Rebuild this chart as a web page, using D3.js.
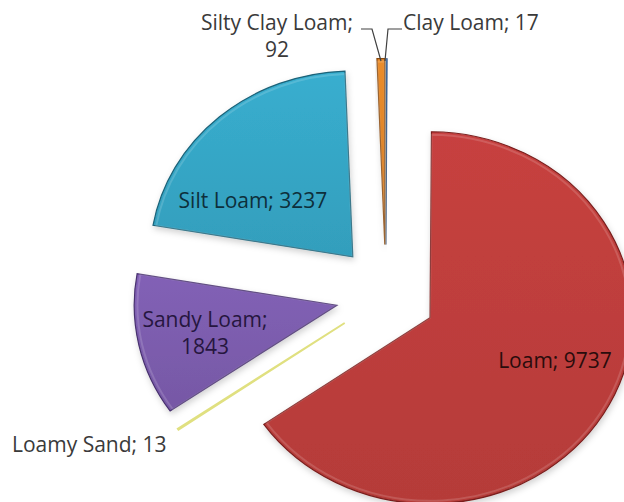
<!DOCTYPE html>
<html><head><meta charset="utf-8">
<script src="https://cdn.jsdelivr.net/npm/d3@7"></script>
<style>
html,body{margin:0;padding:0;background:#fff;}
svg{display:block;}
text{font-family:"Open Sans",sans-serif;}
</style></head>
<body>
<svg id="chart" width="624" height="502"></svg>
<script>
// ---- data ----
const categories = ["Clay Loam", "Loam", "Loamy Sand", "Sandy Loam", "Silt Loam", "Silty Clay Loam"];
const values = [17, 9737, 13, 1843, 3237, 92];
const colors = ["#4F81BD", "#BF3E3C", "#E6E690", "#7D5DAE", "#36A7C6", "#E0862A"];
const darkColors = ["#2c4d7a", "#7a1f1d", "#e0e080", "#47306e", "#1b6278", "#8a4a10"];
const labelColors = ["#3a3a3a", "#2a0c0c", "#3a3a3a", "#26163f", "#0d2f3b", "#3a3a3a"];

// ---- layout ----
const W = 624, H = 502;
const cx = 385.75, cy = 294.5;
const R = 186, sx = 1.09, explode = 50;

const svg = d3.select("#chart");
const defs = svg.append("defs");

colors.forEach((c, i) => {
  const g = defs.append("linearGradient").attr("id", "g" + i)
    .attr("x1", 0).attr("y1", 0).attr("x2", 0).attr("y2", 1);
  g.append("stop").attr("offset", "0%").attr("stop-color", d3.color(c).brighter(0.12));
  g.append("stop").attr("offset", "100%").attr("stop-color", d3.color(c).darker(0.15));
});
const f = defs.append("filter").attr("id", "shadow").attr("x", "-20%").attr("y", "-20%").attr("width", "140%").attr("height", "140%");
f.append("feDropShadow").attr("dx", 1).attr("dy", 3).attr("stdDeviation", 3).attr("flood-color", "#000").attr("flood-opacity", 0.18);

const pie = d3.pie().sort(null).value(d => d).startAngle(0).endAngle(2 * Math.PI);
const arcs = pie(values);
const arc = d3.arc().innerRadius(0).outerRadius(R);
const arcInner = d3.arc().innerRadius(0).outerRadius(R - 3);

const slices = svg.append("g").selectAll("g").data(arcs).join("g")
  .attr("transform", d => {
    const a = (d.startAngle + d.endAngle) / 2;
    return `translate(${cx + explode * Math.sin(a)},${cy - explode * Math.cos(a)}) scale(${sx},1)`;
  });

slices.append("path")
  .attr("d", arc)
  .attr("fill", (d, i) => `url(#g${i})`)
  .attr("stroke", (d, i) => darkColors[i])
  .attr("stroke-width", (d, i) => i === 2 ? 2 : (values[i] < 50 ? 0.6 : 1.2))
  .attr("vector-effect", "non-scaling-stroke")
  .attr("filter", (d, i) => values[i] < 50 ? null : "url(#shadow)");

// soft bevel highlight along the inner edge
slices.filter((d, i) => values[i] > 50).append("path")
  .attr("d", arcInner)
  .attr("fill", "none")
  .attr("stroke", "#fff")
  .attr("stroke-opacity", 0.15)
  .attr("stroke-width", 2)
  .attr("vector-effect", "non-scaling-stroke");

// ---- labels ----
const fs = 21;
const labels = svg.append("g").attr("font-size", fs);

function lab(lines, x, y, anchor, color) {
  const t = labels.append("text").attr("text-anchor", anchor).attr("fill", color);
  lines.forEach((l, k) => t.append("tspan").attr("x", x).attr("y", y + k * 27).text(l));
}
// Loam
lab([`${categories[1]}; ${values[1]}`], 555, 368, "middle", labelColors[1]);
// Silt Loam
lab([`${categories[4]}; ${values[4]}`], 253, 208, "middle", labelColors[4]);
// Sandy Loam
lab([`${categories[3]};`, `${values[3]}`], 205, 327, "middle", labelColors[3]);
// Loamy Sand
lab([`${categories[2]}; ${values[2]}`], 12, 452, "start", labelColors[2]);
// Silty Clay Loam
lab([`${categories[5]};`, `${values[5]}`], 277, 30, "middle", labelColors[5]);
// Clay Loam
lab([`${categories[0]}; ${values[0]}`], 403, 30, "start", labelColors[0]);

// leader lines
const lines = svg.append("g").attr("fill", "none").attr("stroke", "#404040").attr("stroke-width", 1.2);
lines.append("path").attr("d", "M361,29 L372,29 L381,61");
lines.append("path").attr("d", "M402,29 L388,29 L385,61");
</script>
</body></html>
